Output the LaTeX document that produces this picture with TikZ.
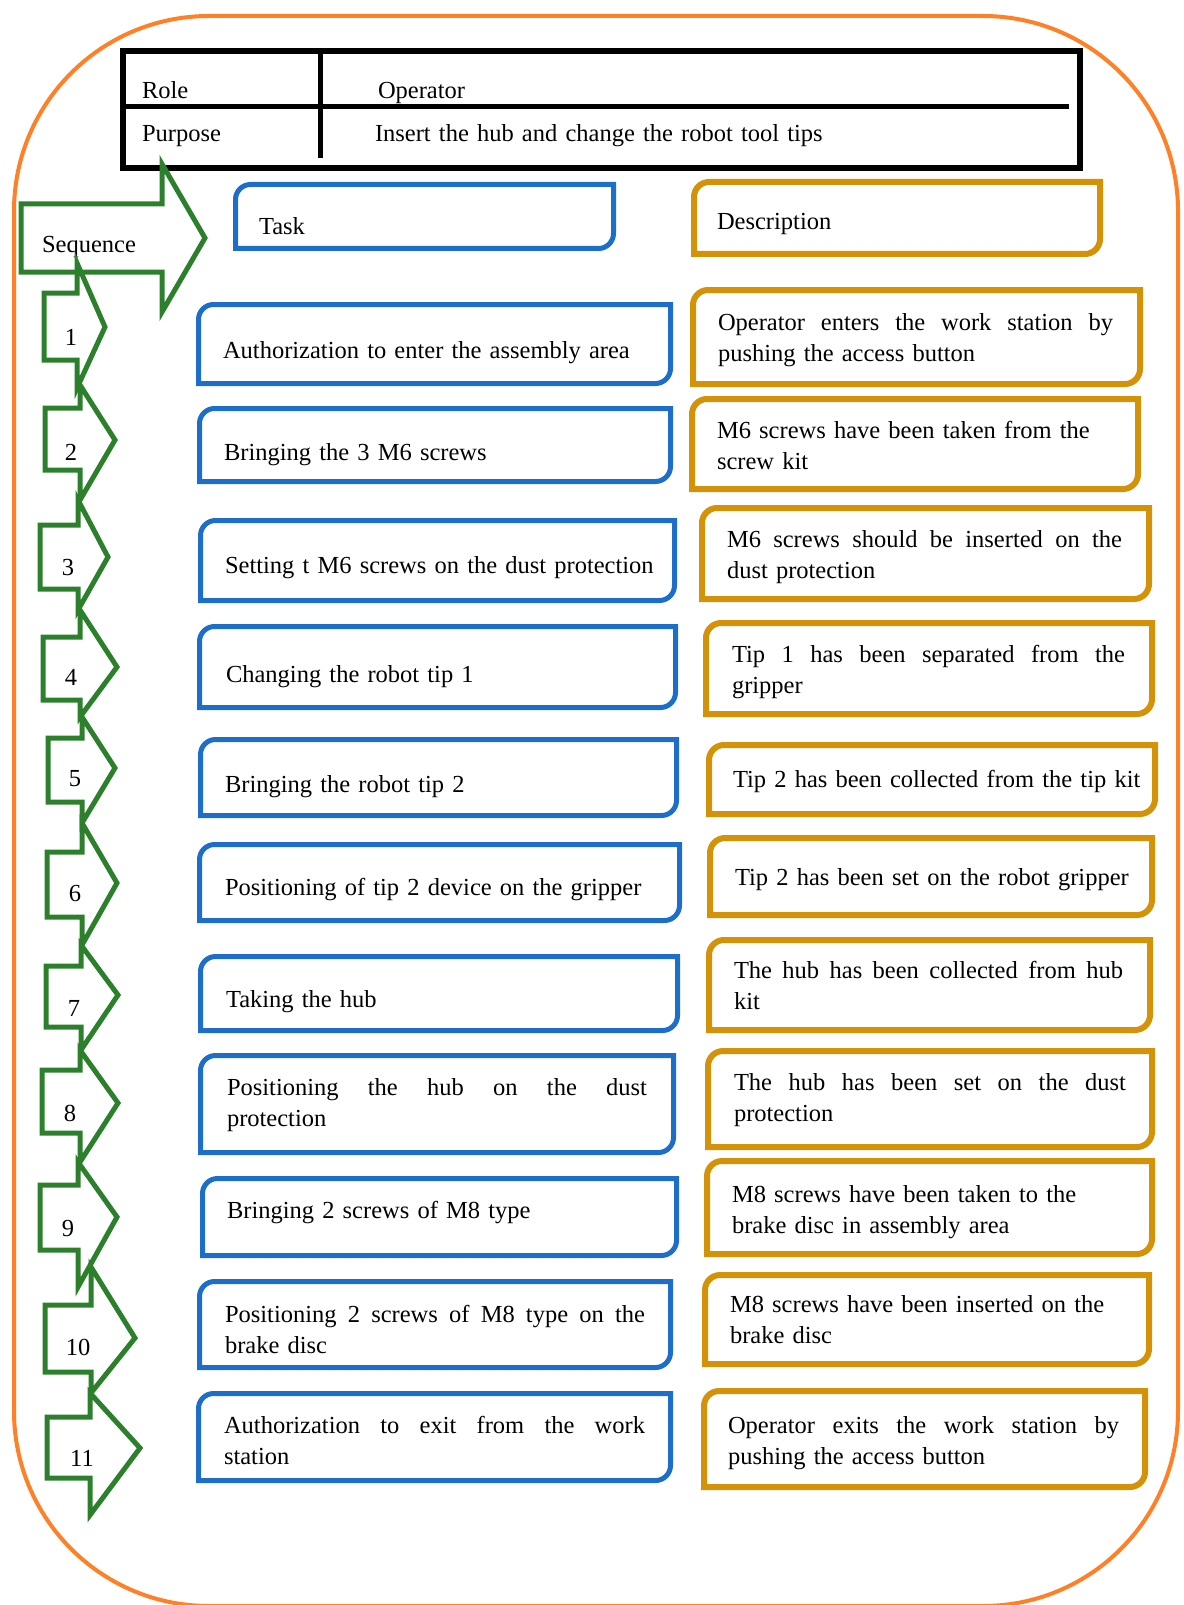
\documentclass[tikz,border=0pt]{standalone}
\usepackage{fontspec}
\setmainfont{Liberation Serif}
\usetikzlibrary{calc}
\definecolor{bl}{RGB}{28,110,200}
\definecolor{gd}{RGB}{212,146,8}
\definecolor{og}{RGB}{255,128,38}
\definecolor{gr}{RGB}{44,128,44}
\def\rr{15}
\newcommand{\jl}[2]{\hbox to #1{\spaceskip=0.25em plus 1fil\relax #2}}
\tikzset{
  boxn/.style={anchor=north west, inner sep=0pt, outer sep=0pt},
  txt/.style={anchor=base west, inner sep=0pt, outer sep=0pt, font=\fontsize{24.5}{31.5}\selectfont, text width=#1, align=left},
  txt/.default=470pt,
  num/.style={anchor=base, inner sep=0pt, font=\fontsize{24.5}{28}\selectfont},
  blueline/.style={draw=bl, line width=5pt},
  goldline/.style={draw=gd, line width=6pt},
  seqline/.style={draw=gr, line width=5pt},
}
% name, outer x1, y1, x2, y2, style, inset
\newcommand{\dbox}[7]{%
  \node[boxn, minimum width={#4-#2-2*#7}, minimum height={#5-#3-2*#7}] (#1) at ({#2+#7},{#3+#7}) {};
  \draw[#6] (#1.south west) -- ($(#1.north west)+(0,\rr)$)
    .. controls ($(#1.north west)+(0,0.45*\rr)$) and ($(#1.north west)+(0.45*\rr,0)$) .. ($(#1.north west)+(\rr,0)$)
    -- (#1.north east) -- ($(#1.south east)+(0,-\rr)$)
    .. controls ($(#1.south east)+(0,-0.45*\rr)$) and ($(#1.south east)+(-0.45*\rr,0)$) .. ($(#1.south east)+(-\rr,0)$)
    -- cycle;}
% L, H, T, C, body top, body bottom, head top, head bottom
\newcommand{\seqarrow}[8]{%
  \draw[seqline] (#1,#5) -- (#2,#5) -- (#2,#7) -- (#3,#4) -- (#2,#8) -- (#2,#6) -- (#1,#6) -- cycle;}
\begin{document}
\begin{tikzpicture}[x=1pt,y=-1pt]
\useasboundingbox (0,0) rectangle (1183,1605);
% outer frame
\node[boxn, draw=og, line width=4pt, rounded corners=195pt, minimum width=1164, minimum height=1590] (frame) at (14,16) {};
% table
\node[boxn, draw=black, line width=6pt, minimum width=957, minimum height=117] (tbl) at (123,51) {};
\draw[line width=5pt] (320,51) -- (320,158);
\draw[line width=5pt] (123,107) -- (1069,107);
\node[txt] (role) at (142,99) {Role};
\node[txt] (oper) at (378,99) {Operator};
\node[txt] (purp) at (142,142) {Purpose};
\node[txt=700pt] (purpt) at (375,142) {Insert the hub and change the robot tool tips};
% sequence arrows
\seqarrow{21}{162}{205}{238}{204}{272}{164}{312}
\node[txt] (seq) at (42,253) {Sequence};
\seqarrow{44}{77}{105}{327}{293}{360}{263}{388}
\seqarrow{45}{80}{115}{440}{408}{470}{385}{500}
\seqarrow{40}{78}{108}{557}{525}{589}{500}{610}
\seqarrow{43}{80}{117}{667}{637}{700}{610}{717}
\seqarrow{48}{82}{115}{768}{738}{802}{717}{823}
\seqarrow{47}{82}{117}{883}{852}{917}{823}{945}
\seqarrow{46}{81}{118}{995}{966}{1027}{945}{1050}
\seqarrow{42}{80}{118}{1103}{1070}{1133}{1050}{1162}
\seqarrow{40}{78}{117}{1217}{1185}{1250}{1162}{1287}
\seqarrow{45}{91}{135}{1338}{1305}{1372}{1267}{1393}
\seqarrow{47}{90}{140}{1448}{1417}{1478}{1393}{1515}
\node[num] (n1) at (71,345) {1};
\node[num] (n2) at (71,460) {2};
\node[num] (n3) at (68,575) {3};
\node[num] (n4) at (71,685) {4};
\node[num] (n5) at (75,786) {5};
\node[num] (n6) at (75,901) {6};
\node[num] (n7) at (74,1016) {7};
\node[num] (n8) at (70,1121) {8};
\node[num] (n9) at (68,1236) {9};
\node[num] (n10) at (78,1355) {10};
\node[num] (n11) at (82,1466) {11};
% headers
\dbox{hTask}{233}{182}{616}{251}{blueline}{2.5}
\node[txt] (tTask) at (259,235) {Task};
\dbox{hDesc}{691}{179}{1103}{257}{goldline}{3}
\node[txt] (tDesc) at (717,230) {Description};
% task boxes
\dbox{b1}{196}{302}{673}{386}{blueline}{2.5}
\dbox{b2}{197}{406}{673}{484}{blueline}{2.5}
\dbox{b3}{198}{518}{677}{603}{blueline}{2.5}
\dbox{b4}{197}{624}{678}{710}{blueline}{2.5}
\dbox{b5}{198}{737}{679}{818}{blueline}{2.5}
\dbox{b6}{197}{842}{682}{923}{blueline}{2.5}
\dbox{b7}{198}{954}{680}{1033}{blueline}{2.5}
\dbox{b8}{198}{1053}{676}{1155}{blueline}{2.5}
\dbox{b9}{200}{1176}{679}{1258}{blueline}{2.5}
\dbox{b10}{197}{1279}{673}{1370}{blueline}{2.5}
\dbox{b11}{196}{1391}{673}{1483}{blueline}{2.5}
\node[txt] (tb1) at (223,358) {Authorization to enter the assembly area};
\node[txt] (tb2) at (224,460) {Bringing the 3 M6 screws};
\node[txt] (tb3) at (225,573) {Setting t M6 screws on the dust protection};
\node[txt] (tb4) at (226,682) {Changing the robot tip 1};
\node[txt] (tb5) at (225,792) {Bringing the robot tip 2};
\node[txt] (tb6) at (225,895) {Positioning of tip 2 device on the gripper};
\node[txt] (tb7) at (226,1007) {Taking the hub};
\node[txt] (tb8) at (227,1095) {\jl{420pt}{Positioning the hub on the dust}\\protection};
\node[txt] (tb9) at (227,1218) {Bringing 2 screws of M8 type};
\node[txt] (tb10) at (225,1322) {\jl{420pt}{Positioning 2 screws of M8 type on the}\\brake disc};
\node[txt] (tb11) at (224,1433) {\jl{421pt}{Authorization to exit from the work}\\station};
% description boxes
\dbox{d1}{690}{287}{1143}{387}{goldline}{3}
\dbox{d2}{689}{396}{1141}{492}{goldline}{3}
\dbox{d3}{699}{505}{1152}{602}{goldline}{3}
\dbox{d4}{703}{620}{1155}{717}{goldline}{3}
\dbox{d5}{706}{742}{1158}{817}{goldline}{3}
\dbox{d6}{707}{835}{1155}{918}{goldline}{3}
\dbox{d7}{706}{937}{1153}{1033}{goldline}{3}
\dbox{d8}{705}{1048}{1155}{1150}{goldline}{3}
\dbox{d9}{704}{1158}{1155}{1257}{goldline}{3}
\dbox{d10}{702}{1272}{1152}{1367}{goldline}{3}
\dbox{d11}{701}{1388}{1148}{1490}{goldline}{3}
\node[txt] (td1) at (718,330) {\jl{395pt}{Operator enters the work station by}\\pushing the access button};
\node[txt] (td2) at (717,438) {M6 screws have been taken from the\\screw kit};
\node[txt] (td3) at (727,547) {\jl{395pt}{M6 screws should be inserted on the}\\dust protection};
\node[txt] (td4) at (732,662) {\jl{393pt}{Tip 1 has been separated from the}\\gripper};
\node[txt] (td5) at (733,787) {Tip 2 has been collected from the tip kit};
\node[txt] (td6) at (735,885) {Tip 2 has been set on the robot gripper};
\node[txt] (td7) at (734,978) {\jl{389pt}{The hub has been collected from hub}\\kit};
\node[txt] (td8) at (734,1090) {\jl{392pt}{The hub has been set on the dust}\\protection};
\node[txt] (td9) at (732,1202) {M8 screws have been taken to the\\brake disc in assembly area};
\node[txt] (td10) at (730,1312) {M8 screws have been inserted on the\\brake disc};
\node[txt] (td11) at (728,1433) {\jl{391pt}{Operator exits the work station by}\\pushing the access button};
\end{tikzpicture}
\end{document}
